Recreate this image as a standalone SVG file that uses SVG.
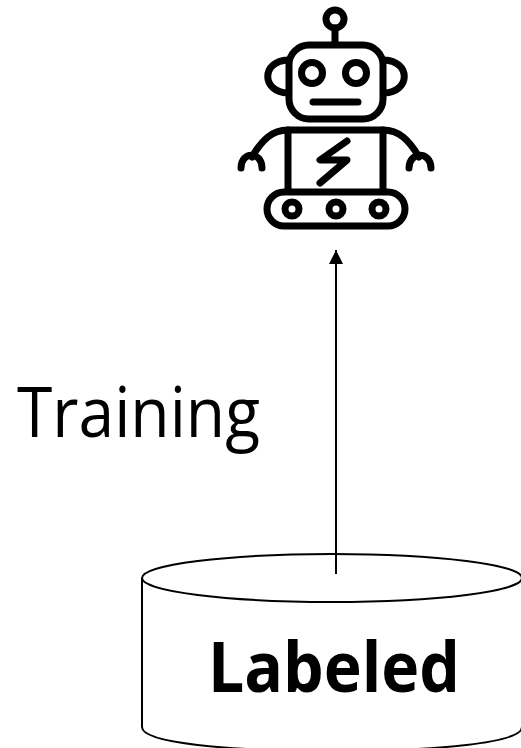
<svg xmlns="http://www.w3.org/2000/svg" width="521" height="748" viewBox="0 0 521 748">
<defs>
<style>
.ico{fill:none;stroke:#000;stroke-width:7;stroke-linecap:round;stroke-linejoin:round}
.thin{fill:none;stroke:#000;stroke-width:2}
.lbl{font-family:"Open Sans","Noto Sans",sans-serif;fill:#000}
</style>
<marker id="ah" markerUnits="userSpaceOnUse" markerWidth="16" markerHeight="14" refX="14" refY="7" orient="auto"><path d="M0 0L14 7L0 14Z" fill="#000"/></marker>
</defs>
<rect width="521" height="748" fill="#fff"/>
<g id="robot">
<circle class="ico" cx="335" cy="19" r="9"/>
<path class="ico" d="M335 28V44"/>
<rect class="ico" x="289" y="45" width="94" height="74" rx="20"/>
<path class="ico" d="M288 60C261 61 261 92 288 93"/>
<path class="ico" d="M384 60C411 61 411 92 384 93"/>
<circle class="ico" cx="312" cy="73" r="10.5"/>
<circle class="ico" cx="356" cy="73" r="10.5"/>
<path class="ico" d="M313 102H358"/>
<path class="ico" d="M288 130H383M288 130V190M383 130V190"/>
<path class="ico" d="M288 130C272 130 262 140 252 157"/>
<path class="ico" d="M383 130C399 130 409 140 419 157"/>
<path class="ico" d="M241 168C241 151 262 151 262 168"/>
<path class="ico" d="M409 168C409 151 431 151 431 168"/>
<path class="ico" d="M347 141L320 160H347L320 183"/>
<rect class="ico" x="267" y="192" width="138" height="34" rx="17"/>
<circle class="ico" cx="292" cy="209" r="7"/>
<circle class="ico" cx="336" cy="209" r="7"/>
<circle class="ico" cx="379" cy="209" r="7"/>
</g>
<g id="database">
<path class="thin" d="M142 578V727C142 743 227 751 332 751S522 743 522 727V578"/>
<ellipse class="thin" cx="332" cy="578" rx="190" ry="24" fill="#fff"/>
<text class="lbl" x="208" y="692" font-size="70" font-weight="700" textLength="252" lengthAdjust="spacingAndGlyphs">Labeled</text>
</g>
<g id="connectors">
<path d="M336 574V250" stroke="#000" stroke-width="2" fill="none" marker-end="url(#ah)"/>
</g>
<text id="training" class="lbl" x="17" y="437" font-size="70" textLength="243" lengthAdjust="spacingAndGlyphs">Training</text>
</svg>
